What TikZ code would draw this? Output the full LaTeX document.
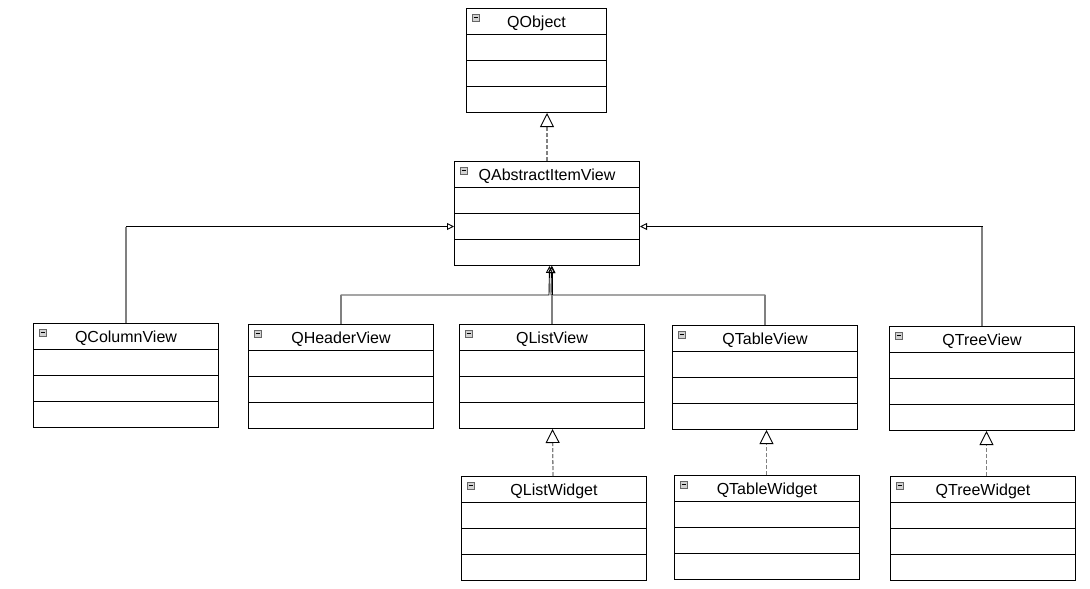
\documentclass[tikz,border=0pt]{standalone}
\usepackage{fontspec}
\setmainfont{Liberation Sans}
\usetikzlibrary{arrows.meta,calc}
\definecolor{lgray}{HTML}{808080}
\tikzset{
  classbox/.style={draw=black, line width=1pt, minimum height=104pt, inner sep=0pt, anchor=north west, fill=white},
  classtitle/.style={font=\fontsize{16}{18}\selectfont, text=black, inner sep=0pt},
  gen/.style={line width=0.9pt, -{Triangle[open, length=7pt, width=7pt]}},
  real/.style={line width=1.3pt, lgray, dash pattern=on 4pt off 2pt, -{Triangle[open, length=14pt, width=14pt, line width=0.9pt, color=black, fill=white]}},
  vseg/.style={line width=1.2pt, lgray},
}
\newcommand\umlclass[5]{% name, x, y, width, title
  \node[classbox, minimum width=#4pt] (#1) at (#2,#3) {};
  \node[classtitle] (#1-t) at ($(#1.north)+(0,15.5)$) {#5};
  \foreach \k in {26,52,78}{\draw[line width=1pt] ($(#1.north west)+(0,\k)$) -- ($(#1.north east)+(0,\k)$);}
  \draw[line width=0.6pt, fill=gray!35, draw=gray!80!black] ($(#1.north west)+(6,6)$) rectangle ($(#1.north west)+(13,13)$);
  \draw[line width=0.8pt] ($(#1.north west)+(7.5,9.5)$) -- ($(#1.north west)+(11.5,9.5)$);
}
\begin{document}
\begin{tikzpicture}[x=1pt,y=-1pt]
\useasboundingbox[fill=white] (0,0) rectangle (1090,589);
\umlclass{qobject}{466}{8}{140}{QObject}
\umlclass{qaiv}{454}{161}{185}{QAbstractItemView}
\umlclass{qcolumn}{33}{323}{185}{QColumnView}
\umlclass{qheader}{248}{324}{185}{QHeaderView}
\umlclass{qlist}{459}{324}{185}{QListView}
\umlclass{qtable}{672}{325}{185}{QTableView}
\umlclass{qtree}{889}{326}{185}{QTreeView}
\umlclass{qlistw}{461}{476}{185}{QListWidget}
\umlclass{qtablew}{674}{475}{185}{QTableWidget}
\umlclass{qtreew}{890}{476}{185}{QTreeWidget}
% realizations (dashed)
\draw[real] (qaiv.north) -- (qaiv.north |- qobject.south);
\draw[real] ($(qlistw.north)+(-1,0)$) -- ($(qlist.south)+(0.5,0)$);
\draw[real] ($(qtablew.north)+(-0.5,0)$) -- ($(qtable.south)+(1.5,0)$);
\draw[real] ($(qtreew.north)+(3.5,0)$) -- ($(qtree.south)+(4.5,0)$);
% generalizations
\coordinate (aivL) at ($(qaiv.west)+(0,13)$);
\coordinate (aivR) at ($(qaiv.east)+(0,13)$);
\draw[gen] (qcolumn.north) |- (aivL);
\draw[vseg] (qcolumn.north) -- (qcolumn.north |- aivL);
\draw[gen] (qtree.north) |- (aivR);
\draw[vseg] (qtree.north) -- (qtree.north |- aivR);
\coordinate (hub) at (549,295);
\coordinate (hub2) at (551,295);
\draw[gen] (qheader.north) |- (hub) -- ($(qaiv.south)+(2.5,0)$);
\draw[vseg] (qheader.north) -- (qheader.north |- hub);
\draw[gen] (qtable.north) |- (hub2) -- ($(qaiv.south)+(4.5,0)$);
\draw[vseg] (qtable.north) -- (qtable.north |- hub2);
\draw[gen] (qlist.north) -- (qlist.north |- qaiv.south);
\draw[vseg] (qlist.north) -- (qlist.north |- hub);
\end{tikzpicture}
\end{document}
